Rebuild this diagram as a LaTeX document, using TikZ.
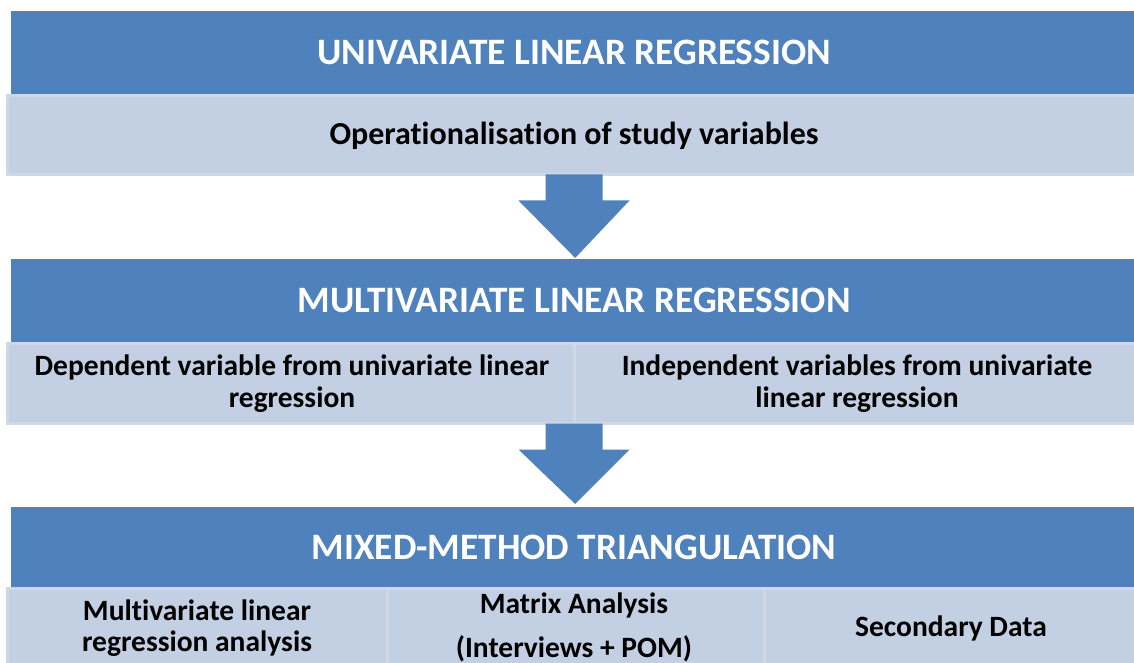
\documentclass[tikz,border=0pt]{standalone}
\usepackage{fontspec}
\setmainfont[Ligatures=NoCommon]{Carlito}
\usetikzlibrary{calc}
\definecolor{hblue}{HTML}{4F81BD}
\definecolor{lbox}{HTML}{C3CFE2}
\definecolor{lborder}{HTML}{CFD8E8}
\tikzset{
  header/.style={fill=hblue, text=white, anchor=north west, inner sep=0pt},
  htext/.style={text=white, font=\fontsize{37.3}{42}\selectfont\bfseries},
  sub/.style={fill=lbox, draw=lborder, line width=3pt, anchor=north west, inner sep=0pt,
    align=center, text=black},
  stext/.style={text=black, align=center, font=\fontsize{29.5}{32}\selectfont\bfseries},
  blockarrow/.style={fill=hblue},
}
\begin{document}
\begin{tikzpicture}[x=1pt,y=1pt]
\useasboundingbox (0,0) rectangle (1134,662);
\begin{scope}
\clip (0,0) rectangle (1134,662);
% level 1
\node[header, minimum width=1129pt, minimum height=83pt] (h1) at (11,651) {};
\node[htext] (t1) at (574,610) {UNIVARIATE LINEAR REGRESSION};
\node[sub, minimum width=1134pt, minimum height=79pt] (b1) at (6,568) {};
\node[stext, font=\fontsize{32}{36}\selectfont\bfseries] (s1) at (574,526.5) {Operationalisation of study variables};
% level 2
\node[header, minimum width=1129pt, minimum height=83pt] (h2) at (11,403) {};
\node[htext] (t2) at (574,362) {MULTIVARIATE LINEAR REGRESSION};
\node[sub, minimum width=567pt, minimum height=80pt] (b2l) at (6,320) {};
\node[sub, minimum width=567pt, minimum height=80pt] (b2r) at (573,320) {};
\node[stext] (s2l) at (292,278) {Dependent variable from univariate linear\\regression};
\node[stext] (s2r) at (857,278) {Independent variables from univariate\\linear regression};
% level 3
\node[header, minimum width=1129pt, minimum height=80pt] (h3) at (11,155) {};
\node[htext] (t3) at (574,115) {MIXED-METHOD TRIANGULATION};
\node[sub, minimum width=380pt, minimum height=90pt] (b3a) at (6,75) {};
\node[sub, minimum width=377pt, minimum height=90pt] (b3b) at (386,75) {};
\node[sub, minimum width=377pt, minimum height=90pt] (b3c) at (763,75) {};
\node[stext, font=\fontsize{29.5}{31}\selectfont\bfseries] (s3a) at (197,33.5) {Multivariate linear\\regression analysis};
\node[stext, font=\fontsize{29.5}{44}\selectfont\bfseries] (s3b) at (574,35) {Matrix Analysis\\(Interviews + POM)};
\node[stext] (s3c) at (951,34) {Secondary Data};
\end{scope}
% block arrows
\fill[blockarrow] ($(b1.south)+(-0.5,1.5)$) coordinate (a1s)
  ++(-28.5,0) -- ++(0,-26) -- ++(-27,0) -- ($(h2.north)+(-0.5,1)$) -- ($(a1s)+(55.5,-26)$) -- ($(a1s)+(28.5,-26)$) -- ($(a1s)+(28.5,0)$) -- cycle;
\fill[blockarrow] ($(b2l.south east)+(-2,1.5)$) coordinate (a2s)
  ++(-28.5,0) -- ++(0,-26) -- ++(-27,0) -- ($(h3.north)+(-0.5,3)$) -- ($(a2s)+(55.5,-26)$) -- ($(a2s)+(28.5,-26)$) -- ($(a2s)+(28.5,0)$) -- cycle;
\end{tikzpicture}
\end{document}
